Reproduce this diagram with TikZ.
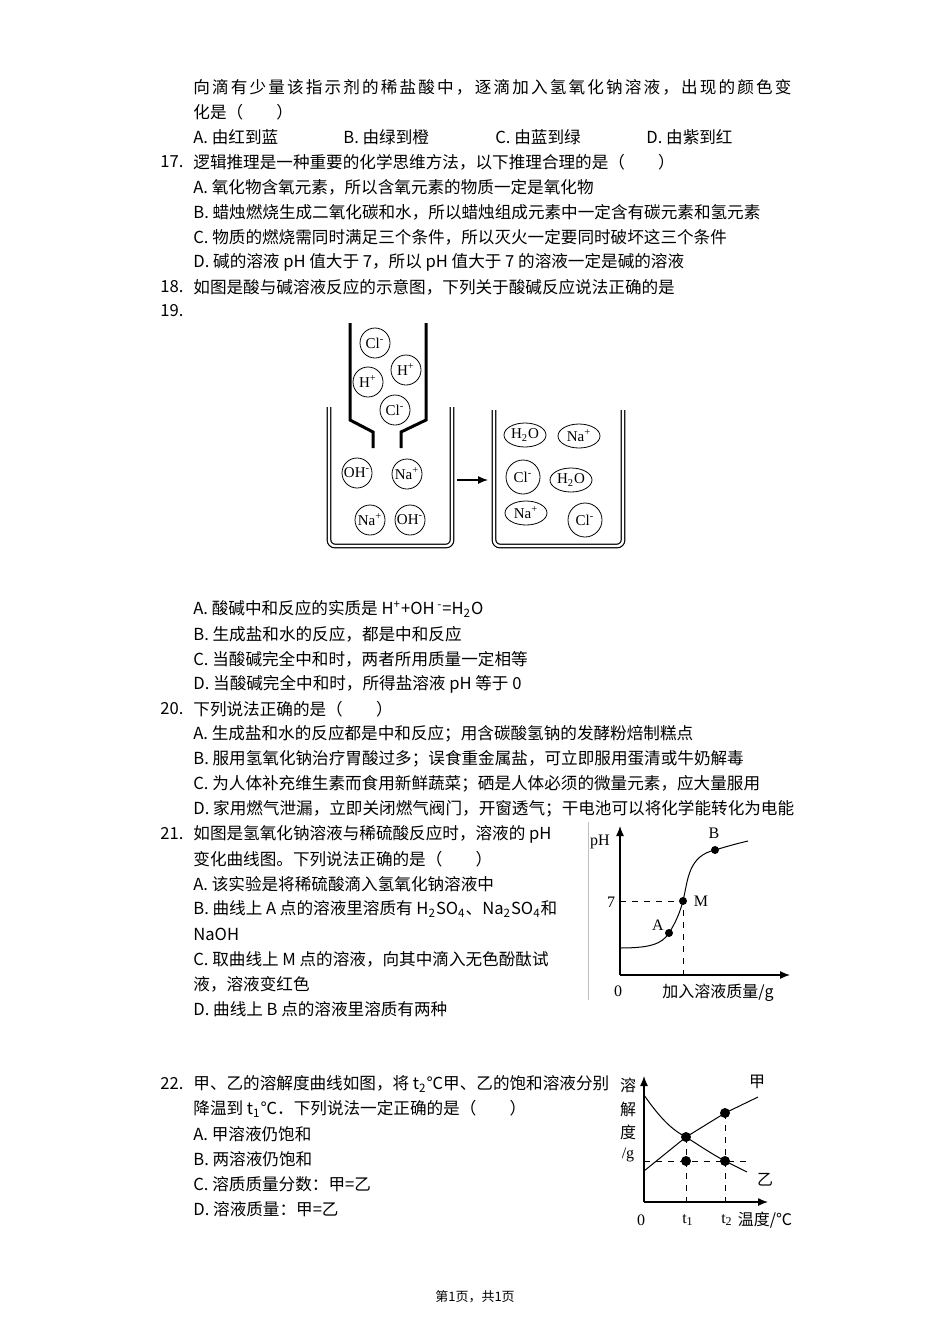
\documentclass[tikz,border=0pt]{standalone}
\usepackage{fontspec}
\setmainfont{Noto Sans CJK SC}
\newfontfamily\lat{Liberation Serif}
\newcommand{\sps}[1]{\textsuperscript{#1}}
\newcommand{\sbs}[1]{\textsubscript{#1}}
\usetikzlibrary{arrows.meta,shapes.geometric}
\tikzset{
 tl/.style={anchor=west,inner sep=0pt,font=\fontsize{8.3}{10}\selectfont},
 ion/.style={circle,draw,inner sep=0pt,minimum size=15pt,font=\lat\fontsize{7.5}{8}\selectfont},
 mol/.style={ellipse,draw,inner sep=0pt,minimum width=21pt,minimum height=12pt,font=\lat\fontsize{7.5}{8}\selectfont},
 gl/.style={inner sep=0pt,font=\fontsize{8}{9}\selectfont},
 gll/.style={inner sep=0pt,font=\lat\fontsize{8}{9}\selectfont},
 dot/.style={circle,fill,inner sep=0pt,minimum size=4pt},
 thick3/.style={line width=1.5pt},
 wall/.style={double,double distance=1.2pt,line width=0.6pt,rounded corners=3pt}
}
\begin{document}
\begin{tikzpicture}[x=0.5pt,y=-0.5pt]
\useasboundingbox[fill=white] (0,0) rectangle (950,1344);
% text
\node[tl] (l1) at (193,87) {\addfontfeature{LetterSpace=13}向滴有少量该指示剂的稀盐酸中，逐滴加入氢氧化钠溶液，出现的颜色变};
\node[tl] (l2) at (193,112) {化是（\qquad ）};
\node[tl] (l3a) at (193,137) {A. 由红到蓝};
\node[tl] (l3b) at (343,137) {B. 由绿到橙};
\node[tl] (l3c) at (495,137) {C. 由蓝到绿};
\node[tl] (l3d) at (646,137) {D. 由紫到红};
\node[tl] (n17) at (160,162) {17.};
\node[tl] (l4) at (193,162) {逻辑推理是一种重要的化学思维方法，以下推理合理的是（\qquad ）};
\node[tl] (l5) at (193,187) {A. 氧化物含氧元素，所以含氧元素的物质一定是氧化物};
\node[tl] (l6) at (193,212) {B. 蜡烛燃烧生成二氧化碳和水，所以蜡烛组成元素中一定含有碳元素和氢元素};
\node[tl] (l7) at (193,237) {C. 物质的燃烧需同时满足三个条件，所以灭火一定要同时破坏这三个条件};
\node[tl] (l8) at (193,262) {D. 碱的溶液 pH 值大于 7，所以 pH 值大于 7 的溶液一定是碱的溶液};
\node[tl] (n18) at (160,287) {18.};
\node[tl] (l9) at (193,287) {如图是酸与碱溶液反应的示意图，下列关于酸碱反应说法正确的是};
\node[tl] (n19) at (160,311) {19.};
\node[tl] (l10) at (193,609) {A. 酸碱中和反应的实质是 H\sps{+}+OH\sps{ -}=H\sbs{2}O};
\node[tl] (l11) at (193,634) {B. 生成盐和水的反应，都是中和反应};
\node[tl] (l12) at (193,659) {C. 当酸碱完全中和时，两者所用质量一定相等};
\node[tl] (l13) at (193,684) {D. 当酸碱完全中和时，所得盐溶液 pH 等于 0};
\node[tl] (n20) at (160,709) {20.};
\node[tl] (l14) at (193,709) {下列说法正确的是（\qquad ）};
\node[tl] (l15) at (193,734) {A. 生成盐和水的反应都是中和反应；用含碳酸氢钠的发酵粉焙制糕点};
\node[tl] (l16) at (193,759) {B. 服用氢氧化钠治疗胃酸过多；误食重金属盐，可立即服用蛋清或牛奶解毒};
\node[tl] (l17) at (193,784) {C. 为人体补充维生素而食用新鲜蔬菜；硒是人体必须的微量元素，应大量服用};
\node[tl] (l18) at (193,809) {D. 家用燃气泄漏，立即关闭燃气阀门，开窗透气；干电池可以将化学能转化为电能};
\node[tl] (n21) at (160,834) {21.};
\node[tl] (l19) at (193,834) {如图是氢氧化钠溶液与稀硫酸反应时，溶液的 pH};
\node[tl] (l20) at (193,859) {变化曲线图。下列说法正确的是（\qquad ）};
\node[tl] (l21) at (193,884) {A. 该实验是将稀硫酸滴入氢氧化钠溶液中};
\node[tl] (l22) at (193,909) {B. 曲线上 A 点的溶液里溶质有 H\sbs{2}SO\sbs{4}、Na\sbs{2}SO\sbs{4}和};
\node[tl] (l23) at (193,934) {NaOH};
\node[tl] (l24) at (193,959) {C. 取曲线上 M 点的溶液，向其中滴入无色酚酞试};
\node[tl] (l25) at (193,984) {液，溶液变红色};
\node[tl] (l26) at (193,1009) {D. 曲线上 B 点的溶液里溶质有两种};
\node[tl] (n22) at (160,1084) {22.};
\node[tl] (l27) at (193,1084) {甲、乙的溶解度曲线如图，将 t\sbs{2}℃甲、乙的饱和溶液分别};
\node[tl] (l28) at (193,1109) {降温到 t\sbs{1}℃．下列说法一定正确的是（\qquad ）};
\node[tl] (l29) at (193,1134) {A. 甲溶液仍饱和};
\node[tl] (l30) at (193,1159) {B. 两溶液仍饱和};
\node[tl] (l31) at (193,1184) {C. 溶质质量分数：甲=乙};
\node[tl] (l32) at (193,1209) {D. 溶液质量：甲=乙};
\node[inner sep=0pt,font=\fontsize{6.5}{8}\selectfont] (foot) at (475,1297) {第1页，共1页};
% beaker diagram
\draw[thick3] (350,323) -- (350,420) -- (373,432) -- (373,448);
\draw[thick3] (426,323) -- (426,420) -- (401,432) -- (401,448);
\draw[wall] (329,407) -- (329,546) -- (452,546) -- (452,407);
\draw[wall] (494,410) -- (494,546) -- (623,546) -- (623,410);
\coordinate (ar1) at (457,480); \coordinate (ar2) at (488,480);
\draw[-{Latex[length=5pt,width=4pt]},line width=0.6pt] (ar1) -- (ar2);
\node[ion] (c1) at (375,343) {Cl\sps{-}};
\node[ion] (c2) at (406,370) {H\sps{+}};
\node[ion] (c3) at (368,382) {H\sps{+}};
\node[ion] (c4) at (395,410) {Cl\sps{-}};
\node[ion] (c5) at (357,473) {OH\sps{-}};
\node[ion] (c6) at (407,474) {Na\sps{+}};
\node[ion] (c7) at (370,520) {Na\sps{+}};
\node[ion] (c8) at (410,520) {OH\sps{-}};
\node[mol] (d1) at (525,435) {H\sbs{2}O};
\node[mol] (d2) at (579,436) {Na\sps{+}};
\node[ion,minimum size=17pt] (d3) at (523,477) {Cl\sps{-}};
\node[mol] (d4) at (571,480) {H\sbs{2}O};
\node[mol] (d5) at (526,513) {Na\sps{+}};
\node[ion,minimum size=17pt] (d6) at (585,520) {Cl\sps{-}};
% pH graph
\draw[gray!50,line width=0.4pt] (588,822) -- (588,1000);
\coordinate (po) at (620,975);
\coordinate (py) at (620,826);
\coordinate (px) at (790,975);
\draw[-{Latex[length=5pt,width=4pt]},line width=0.6pt] (po) -- (py);
\draw[-{Latex[length=5pt,width=4pt]},line width=0.6pt] (po) -- (px);
\node[dot] (pA) at (669,933) {};
\node[dot] (pM) at (683,901) {};
\node[dot] (pB) at (715,850) {};
\draw[line width=0.5pt] (620,948) .. controls (650,948) and (662,944) .. (pA.center) .. controls (676,922) and (680,912) .. (pM.center) .. controls (688,880) and (688,856) .. (pB.center) .. controls (725,847) and (735,844) .. (748,841);
\draw[dashed,line width=0.5pt] (620,901) -- (pM.center) -- (683,975);
\node[gll] (lpH) at (600,842) {pH};
\node[gll] (l7b) at (611,902) {7};
\node[gll] (lA) at (658,925) {A};
\node[gll] (lM) at (701,901) {M};
\node[gll] (lB) at (714,833) {B};
\node[gll] (l0) at (618,991) {0};
\node[gl] (lx) at (718,993) {加入溶液质量/g};
% solubility graph
\coordinate (so) at (644,1202);
\coordinate (sy) at (644,1076);
\coordinate (sx) at (768,1202);
\draw[-{Latex[length=5pt,width=4pt]},line width=0.6pt] (so) -- (sy);
\draw[-{Latex[length=5pt,width=4pt]},line width=0.6pt] (so) -- (sx);
\node[dot,minimum size=5pt] (s1) at (686,1137) {};
\node[dot,minimum size=5pt] (s2) at (725,1113) {};
\node[dot,minimum size=5pt] (s3) at (686,1161) {};
\node[dot,minimum size=5pt] (s4) at (725,1161) {};
\draw[line width=0.5pt] (644,1171) -- (s1.center) -- (s2.center) -- (758,1097);
\draw[line width=0.5pt] (644,1095) .. controls (660,1118) and (672,1130) .. (s1.center) .. controls (700,1146) and (712,1154) .. (s4.center) -- (747,1172);
\draw[dashed,line width=0.5pt] (644,1161) -- (750,1161);
\draw[dashed,line width=0.5pt] (s1.center) -- (686,1202);
\draw[dashed,line width=0.5pt] (s2.center) -- (725,1202);
\node[gl] (y1) at (628,1085) {溶};
\node[gl] (y2) at (628,1109) {解};
\node[gl] (y3) at (628,1132) {度};
\node[gll] (y4) at (628,1155) {/g};
\node[gl] (jia) at (757,1082) {甲};
\node[gl] (yi) at (765,1180) {乙};
\node[gll] (s0) at (641,1220) {0};
\node[gll] (t1) at (688,1220) {t\sbs{1}};
\node[gll] (t2) at (727,1220) {t\sbs{2}};
\node[gl] (tx) at (765,1220) {温度/℃};
\end{tikzpicture}
\end{document}
